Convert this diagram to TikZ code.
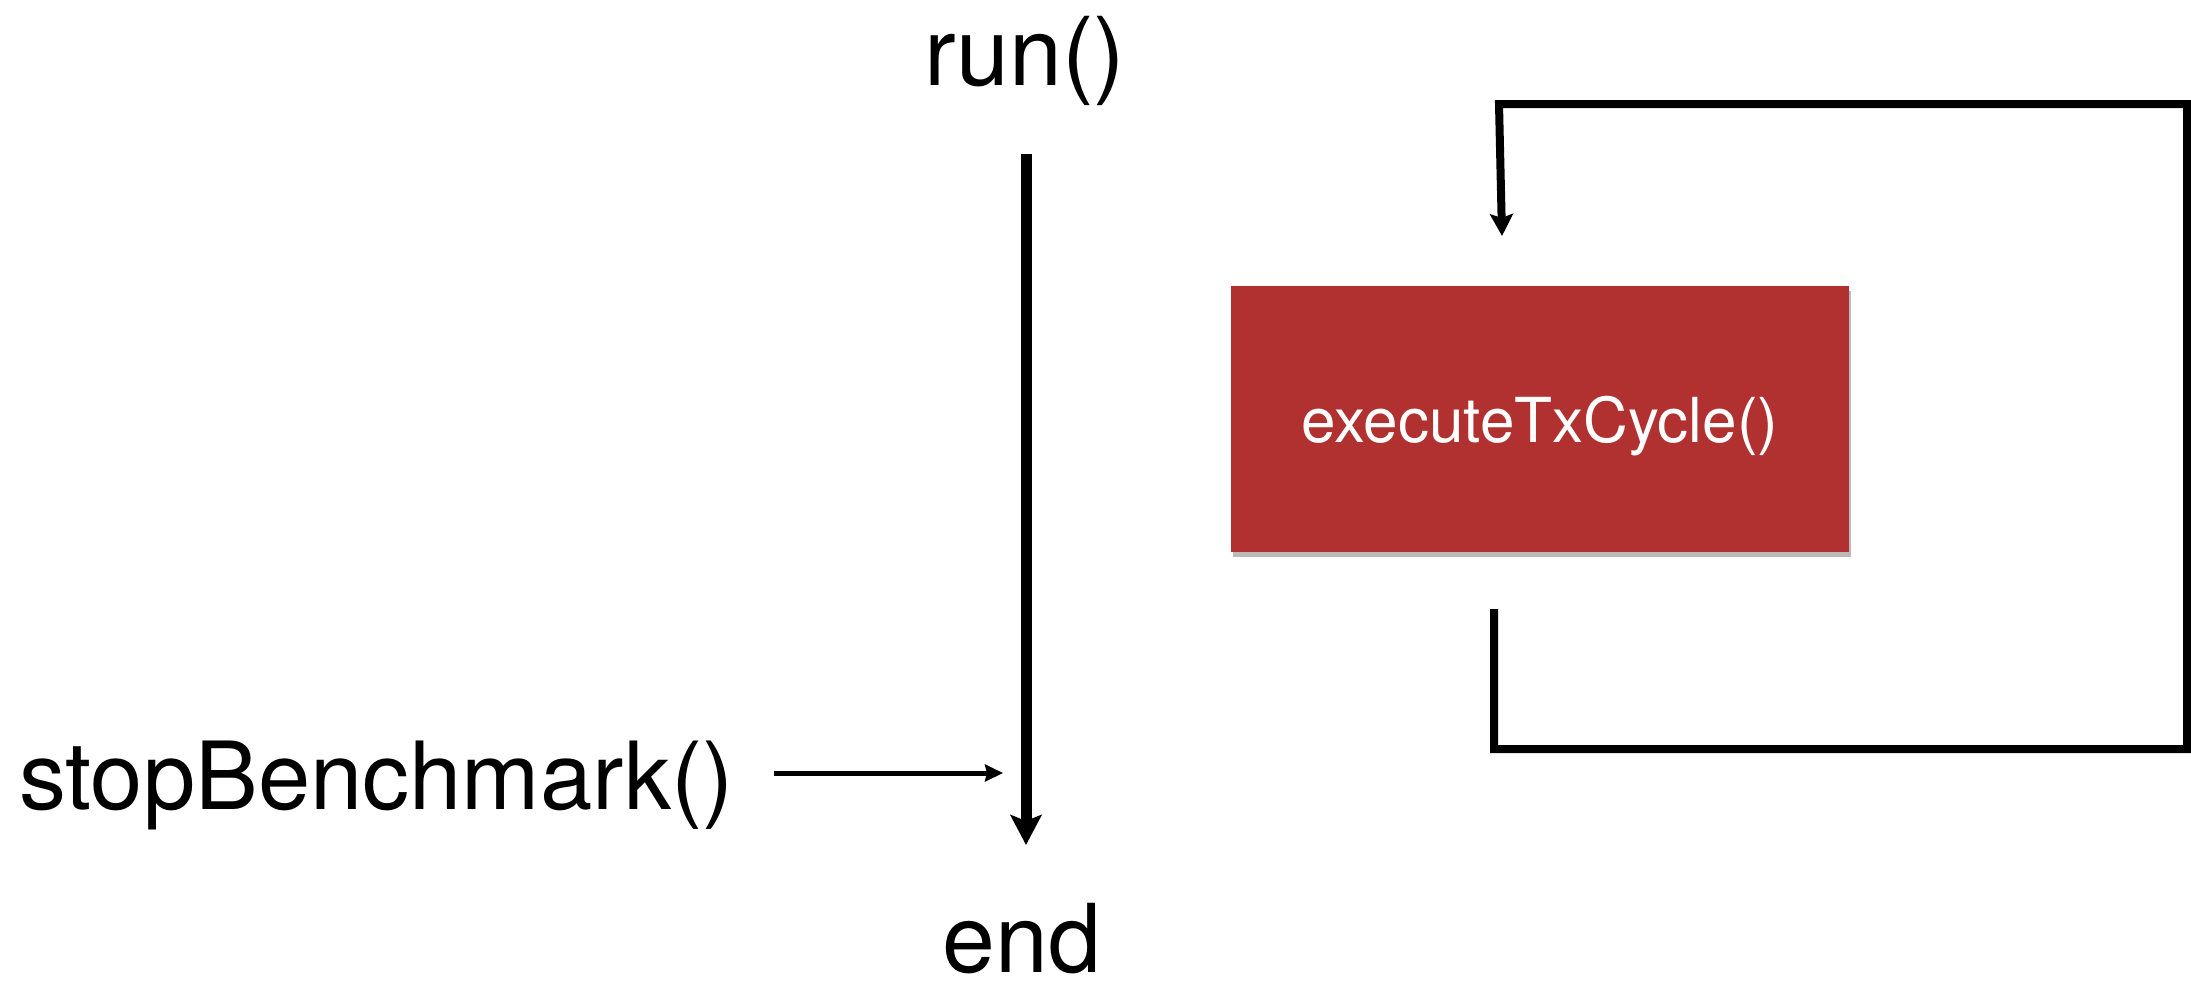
\documentclass[tikz,border=0pt]{standalone}
\usepackage{fontspec}
\setmainfont{TeX Gyre Heros}
\usetikzlibrary{arrows.meta,shadows}
\definecolor{boxred}{RGB}{176,49,48}
\begin{document}
\begin{tikzpicture}[x=1pt,y=-1pt,
  biglabel/.style={inner sep=0pt, anchor=base, font=\fontsize{95}{110}\selectfont},
  redbox/.style={fill=boxred, draw=none, inner sep=0pt,
    minimum width=618pt, minimum height=266pt,
    text=white, font=\fontsize{62}{70}\selectfont,
    text height=50pt, text depth=4pt,
    drop shadow={shadow xshift=2pt, shadow yshift=-5pt, opacity=0.45, fill=black!60}},
  mainflow/.style={line width=11pt, -{Stealth[length=30pt,width=31pt,inset=6pt]}},
  callarrow/.style={line width=5pt, -{Stealth[length=18pt,width=17pt,inset=2pt]}},
  loopline/.style={line width=8pt, miter limit=10, line join=miter,
    -{Stealth[length=22pt,width=23pt,inset=4pt]}}]
\useasboundingbox (0,0) rectangle (2191,980);

% labels
\node[biglabel] (run) at (1025,85) {run()};
\node[biglabel] (end) at (1022,972) {end};
\node[biglabel, anchor=base west, font=\fontsize{94}{110}\selectfont] (stop) at (19,809) {stopBenchmark()};

% box
\node[redbox] (box) at (1540,419) {executeTxCycle()};

% coordinates for connector free ends
\coordinate (mainstart) at (1026,154);
\coordinate (mainend) at (1026,845);
\coordinate (callstart) at (774,773);
\coordinate (callend) at (1003,773);
\coordinate (loopstart) at (1494,609);
\coordinate (loopbl) at (1494,749);
\coordinate (loopbr) at (2187,749);
\coordinate (looptr) at (2187,104);
\coordinate (looptl) at (1499,104);
\coordinate (loopend) at (1502,236);

% connectors
\draw[mainflow] (mainstart) -- (mainend);
\draw[callarrow] (callstart) -- (callend);
\draw[loopline] (loopstart) -- (loopbl) -- (loopbr) -- (looptr) -- (looptl) -- (loopend);
\end{tikzpicture}
\end{document}
